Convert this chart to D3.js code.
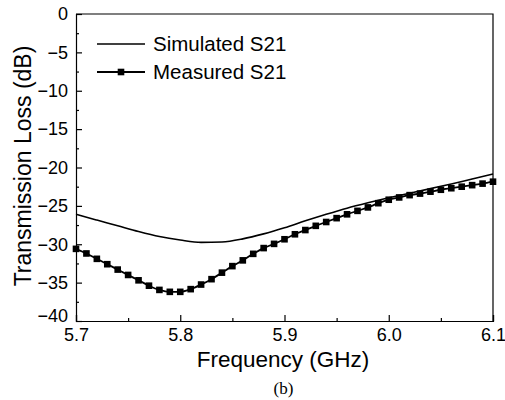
<!DOCTYPE html>
<html>
<head>
<meta charset="utf-8">
<script src="https://cdn.jsdelivr.net/npm/d3@7"></script>
<style>
  body { margin: 0; background: #fff; }
  text { font-family: "Liberation Sans", Arial, sans-serif; fill: #000; }
</style>
</head>
<body>
<script>
// simulated S21, every 0.02 GHz
const simFreq = [5.70, 5.72, 5.74, 5.76, 5.78, 5.80, 5.82, 5.84, 5.86, 5.88, 5.90,
                 5.92, 5.94, 5.96, 5.98, 6.00, 6.02, 6.04, 6.06, 6.08, 6.10];
const simS21 = [-26.1, -26.85, -27.6, -28.35, -29.0, -29.45, -29.75, -29.7, -29.3, -28.65, -27.85,
                -26.95, -26.1, -25.3, -24.6, -23.95, -23.35, -22.75, -22.15, -21.5, -20.85];

// measured S21, every 0.01 GHz
const measFreq = [5.70, 5.71, 5.72, 5.73, 5.74, 5.75, 5.76, 5.77, 5.78, 5.79, 5.80,
                  5.81, 5.82, 5.83, 5.84, 5.85, 5.86, 5.87, 5.88, 5.89, 5.90,
                  5.91, 5.92, 5.93, 5.94, 5.95, 5.96, 5.97, 5.98, 5.99, 6.00,
                  6.01, 6.02, 6.03, 6.04, 6.05, 6.06, 6.07, 6.08, 6.09, 6.10];
const measS21 = [-30.6, -31.2, -31.9, -32.6, -33.3, -34.0, -34.7, -35.4, -35.95, -36.2, -36.2,
                 -35.85, -35.25, -34.55, -33.7, -32.85, -32.1, -31.25, -30.5, -29.95, -29.35,
                 -28.7, -28.15, -27.6, -27.1, -26.6, -26.1, -25.65, -25.2, -24.65, -24.2,
                 -23.9, -23.6, -23.4, -23.15, -22.9, -22.7, -22.5, -22.3, -22.1, -21.85];

const xTicks = [5.7, 5.8, 5.9, 6.0, 6.1];
const xMinor = [5.75, 5.85, 5.95, 6.05];
const yTicks = [0, -5, -10, -15, -20, -25, -30, -35, -40];
const yMinor = [-2.5, -7.5, -12.5, -17.5, -22.5, -27.5, -32.5, -37.5];
const seriesNames = ["Simulated S21", "Measured S21"];

const w = 505, h = 400;
const padL = 76, padR = 493, padT = 14, padB = 321;

const x = d3.scaleLinear().domain([5.7, 6.1]).range([padL, padR]);
const y = d3.scaleLinear().domain([-40, 0]).range([padB, padT]);

const svg = d3.select("body").append("svg")
  .attr("width", w)
  .attr("height", h);

// minor ticks first
svg.append("g")
  .attr("transform", `translate(0,${padB})`)
  .call(d3.axisBottom(x).tickValues(xMinor).tickSize(-3).tickFormat(""))
  .call(g => g.select(".domain").remove());
svg.append("g")
  .attr("transform", `translate(${padL},0)`)
  .call(d3.axisLeft(y).tickValues(yMinor).tickSize(-3).tickFormat(""))
  .call(g => g.select(".domain").remove());

const xAxis = svg.append("g")
  .attr("transform", `translate(0,${padB})`)
  .call(d3.axisBottom(x).tickValues(xTicks).tickSize(-6).tickPadding(7).tickFormat(d3.format(".1f")));
xAxis.selectAll("text").style("font-size", "18px");

const yAxis = svg.append("g")
  .attr("transform", `translate(${padL},0)`)
  .call(d3.axisLeft(y).tickValues(yTicks).tickSize(-6).tickPadding(8).tickFormat(d3.format("d")));
yAxis.selectAll("text").style("font-size", "18px")
  .attr("dy", d => d === -40 ? "0.05em" : "0.32em");

svg.selectAll(".domain").attr("stroke-width", 1.2);
svg.selectAll(".tick line").attr("stroke-width", 1.2);

// top and right frame
svg.append("path")
  .attr("d", `M${padL},${padT}H${padR}V${padB}`)
  .attr("fill", "none")
  .attr("stroke", "#000")
  .attr("stroke-width", 1.2);

const line = d3.line().curve(d3.curveMonotoneX);

svg.append("path")
  .attr("d", line(simFreq.map((f, i) => [x(f), y(simS21[i])])))
  .attr("fill", "none")
  .attr("stroke", "#000")
  .attr("stroke-width", 1.6);

svg.append("path")
  .attr("d", line(measFreq.map((f, i) => [x(f), y(measS21[i])])))
  .attr("fill", "none")
  .attr("stroke", "#000")
  .attr("stroke-width", 1.8);

svg.selectAll("rect.marker")
  .data(measFreq)
  .enter()
  .append("rect")
  .attr("class", "marker")
  .attr("x", d => x(d) - 3.3)
  .attr("y", (d, i) => y(measS21[i]) - 3.3)
  .attr("width", 6.6)
  .attr("height", 6.6)
  .attr("fill", "#000");

// legend
svg.append("line")
  .attr("x1", 97).attr("x2", 145).attr("y1", 44).attr("y2", 44)
  .attr("stroke", "#000").attr("stroke-width", 1.6);
svg.append("line")
  .attr("x1", 97).attr("x2", 145).attr("y1", 72).attr("y2", 72)
  .attr("stroke", "#000").attr("stroke-width", 1.8);
svg.append("rect")
  .attr("x", 121 - 3.3).attr("y", 72 - 3.3).attr("width", 6.6).attr("height", 6.6)
  .attr("fill", "#000");
svg.selectAll("text.legend")
  .data(seriesNames)
  .enter()
  .append("text")
  .attr("class", "legend")
  .attr("x", 153)
  .attr("y", (d, i) => 44 + i * 28)
  .attr("dy", "0.35em")
  .style("font-size", "20.5px")
  .text(d => d);

// axis titles
svg.append("text")
  .attr("x", 283)
  .attr("y", 367)
  .attr("text-anchor", "middle")
  .style("font-size", "22.5px")
  .text("Frequency (GHz)");

svg.append("text")
  .attr("transform", "translate(31,166) rotate(-90)")
  .attr("text-anchor", "middle")
  .style("font-size", "23px")
  .text("Transmission Loss (dB)");

svg.append("text")
  .attr("x", 283.5)
  .attr("y", 394)
  .attr("text-anchor", "middle")
  .style("font-family", "'Liberation Serif', 'Times New Roman', serif")
  .style("font-size", "17px")
  .text("(b)");
</script>
</body>
</html>
